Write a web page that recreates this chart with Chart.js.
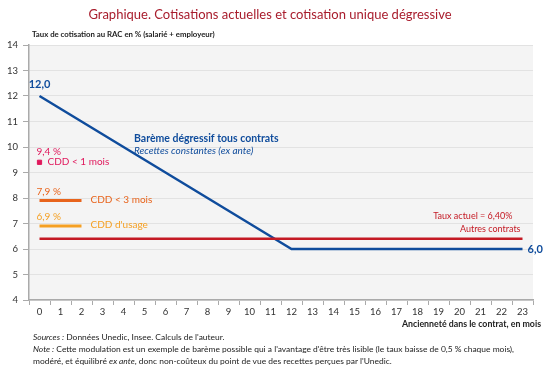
<!DOCTYPE html>
<html>
<head>
<meta charset="utf-8">
<script src="https://cdn.jsdelivr.net/npm/chart.js@4"></script>
<style>
  body { margin: 0; background: #fff; font-family: Lato, sans-serif; }
  #wrap { position: relative; width: 550px; height: 370px; }
  #chart { position: absolute; left: 0; top: 0; }
  .title { position: absolute; top: 6px; left: 0; width: 540px; text-align: center; color: #a81c2c; font-size: 13px; }
  .ytitle { position: absolute; top: 29px; left: 32px; font-size: 7.8px; font-weight: bold; color: #222; }
  .xtitle { position: absolute; top: 318px; right: 9px; font-size: 8.8px; font-weight: bold; color: #222; }
  .notes { position: absolute; top: 331px; left: 33px; font-size: 8.45px; color: #222; line-height: 12px; }
</style>
</head>
<body>
<div id="wrap">
  <canvas id="chart" width="550" height="370"></canvas>
  <div class="title">Graphique. Cotisations actuelles et cotisation unique dégressive</div>
  <div class="ytitle">Taux de cotisation au RAC en % (salarié + employeur)</div>
  <div class="xtitle">Ancienneté dans le contrat, en mois</div>
  <div class="notes">
    <i>Sources :</i> Données Unedic, Insee. Calculs de l'auteur.<br>
    <i>Note :</i> Cette modulation est un exemple de barème possible qui a l'avantage d'être très lisible (le taux baisse de 0,5 % chaque mois),<br>
    modéré, et équilibré <i>ex ante</i>, donc non-coûteux du point de vue des recettes perçues par l'Unedic.
  </div>
</div>
<script>
// mois d'ancienneté
const months = ['0','1','2','3','4','5','6','7','8','9','10','11','12','13','14','15','16','17','18','19','20','21','22','23']

// barème dégressif tous contrats
const degressif = [12, 11.5, 11, 10.5, 10, 9.5, 9, 8.5, 8, 7.5, 7, 6.5, 6, 6, 6, 6, 6, 6, 6, 6, 6, 6, 6, 6]
// taux actuel autres contrats
const tauxActuel = [6.4, 6.4, 6.4, 6.4, 6.4, 6.4, 6.4, 6.4, 6.4, 6.4, 6.4, 6.4, 6.4, 6.4, 6.4, 6.4, 6.4, 6.4, 6.4, 6.4, 6.4, 6.4, 6.4, 6.4]
// CDD
const cdd3mois = [7.9, 7.9, 7.9]
const cddUsage = [6.9, 6.9, 6.9]
const cdd1mois = [9.4]

const yTicks = [4, 5, 6, 7, 8, 9, 10, 11, 12, 13, 14]

const blue = '#0f4c9c'
const red = '#c41a24'
const orange = '#e8641c'
const lightOrange = '#f5a023'
const pink = '#e0185c'

// fond gris de la zone de tracé
const plotBg = {
    id: 'plotBg',
    beforeDraw(chart) {
        const { ctx, chartArea: a } = chart
        ctx.save()
        ctx.fillStyle = '#f4f4f4'
        ctx.fillRect(a.left, a.top, a.right - a.left, a.bottom - a.top)
        ctx.restore()
    }
}

// étiquettes placées sur les points de données
const labels = [
    { x: 0, y: 12, dx: 0, dy: -12, text: '12,0', color: blue, font: 'bold 11px Lato', align: 'center' },
    { x: 23, y: 6, dx: 5, dy: 0, text: '6,0', color: blue, font: 'bold 11px Lato', align: 'left' },
    { x: 4.5, y: 10.5, dx: 0, dy: 4, text: 'Barème dégressif tous contrats', color: blue, font: 'bold 10.5px Lato', align: 'left' },
    { x: 4.5, y: 10.5, dx: 0, dy: 17, text: 'Recettes constantes (ex ante)', color: blue, font: 'italic 10px Lato', align: 'left' },
    { x: 0, y: 9.4, dx: -3, dy: -11, text: '9,4 %', color: pink, font: '10px Lato', align: 'left' },
    { x: 0, y: 9.4, dx: 8, dy: -1, text: 'CDD < 1 mois', color: pink, font: '10px Lato', align: 'left' },
    { x: 0, y: 7.9, dx: -3, dy: -9, text: '7,9 %', color: orange, font: '10px Lato', align: 'left' },
    { x: 2, y: 7.9, dx: 9, dy: -1, text: 'CDD < 3 mois', color: orange, font: '10px Lato', align: 'left' },
    { x: 0, y: 6.9, dx: -3, dy: -9, text: '6,9 %', color: lightOrange, font: '10px Lato', align: 'left' },
    { x: 2, y: 6.9, dx: 9, dy: -1, text: 'CDD d\'usage', color: lightOrange, font: '10px Lato', align: 'left' },
    { x: 23, y: 6.4, dx: -10, dy: -23, text: 'Taux actuel = 6,40%', color: red, font: '9px Lato', align: 'right' },
    { x: 23, y: 6.4, dx: -2, dy: -10, text: 'Autres contrats', color: red, font: '9px Lato', align: 'right' }
]

const dataLabels = {
    id: 'dataLabels',
    afterDatasetsDraw(chart) {
        const { ctx, scales } = chart
        ctx.save()
        ctx.textBaseline = 'middle'
        labels.forEach(l => {
            ctx.font = l.font
            ctx.fillStyle = l.color
            ctx.textAlign = l.align
            ctx.fillText(l.text, scales.x.getPixelForValue(l.x) + l.dx, scales.y.getPixelForValue(l.y) + l.dy)
        })
        ctx.restore()
    }
}

const data = {
    labels: months,
    datasets: [
        { data: tauxActuel, borderColor: red, borderWidth: 2.5, pointRadius: 0 },
        { data: degressif, borderColor: blue, borderWidth: 2.5, pointRadius: 0 },
        { data: cdd3mois, borderColor: orange, borderWidth: 3, pointRadius: 0 },
        { data: cddUsage, borderColor: lightOrange, borderWidth: 3, pointRadius: 0 },
        { data: cdd1mois, borderColor: pink, backgroundColor: pink, pointStyle: 'rect', pointRadius: 3, showLine: false }
    ]
}

const options = {
    responsive: false,
    animation: false,
    layout: { padding: { top: 45, right: 17, bottom: 45, left: 0 } },
    plugins: { legend: { display: false }, tooltip: { enabled: false } },
    scales: {
        x: {
            offset: true,
            grid: { offset: true, drawOnChartArea: false, tickLength: 5, color: '#aaa' },
            border: { color: '#aaa', width: 1.5 },
            ticks: { color: '#333', font: { family: 'Lato', size: 9.5 }, maxRotation: 0, autoSkip: false, padding: 1 },
            afterFit: scale => { scale.height = 25 }
        },
        y: {
            min: 4, max: 14,
            afterBuildTicks: scale => { scale.ticks = yTicks.map(v => ({ value: v })) },
            grid: { color: '#e2e2e2', tickLength: 6, tickColor: '#aaa' },
            border: { color: '#aaa', width: 1.5 },
            ticks: { color: '#333', font: { family: 'Lato', size: 9.5 }, padding: 5 },
            afterFit: scale => { scale.width = 29 }
        }
    }
}

new Chart('chart', { type: 'line', data, options, plugins: [plotBg, dataLabels] })
</script>
</body>
</html>
